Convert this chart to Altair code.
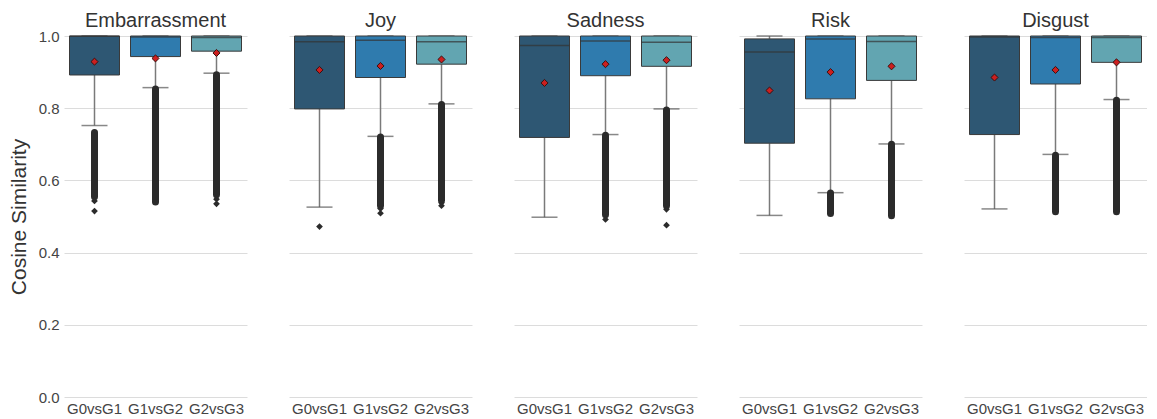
import altair as alt
import pandas as pd

emotions = ["Embarrassment", "Joy", "Sadness", "Risk", "Disgust"]
groups = ["G0vsG1", "G1vsG2", "G2vsG3"]
colors = ["#2e5773", "#2f7bae", "#62a5b1"]

# per emotion x group (15 boxes, emotion-major order)
q1 =      [0.892, 0.943, 0.958,  0.798, 0.885, 0.922,  0.719, 0.890, 0.916,  0.703, 0.826, 0.877,  0.727, 0.867, 0.927]
median =  [0.999, 0.997, 0.996,  0.984, 0.988, 0.984,  0.974, 0.986, 0.983,  0.956, 0.992, 0.985,  0.997, 0.996, 0.996]
q3 =      [1.000, 1.000, 1.000,  1.000, 1.000, 1.000,  1.000, 1.000, 1.000,  0.992, 1.000, 1.000,  1.000, 1.000, 1.000]
whislo =  [0.752, 0.857, 0.897,  0.526, 0.722, 0.812,  0.498, 0.727, 0.798,  0.503, 0.566, 0.701,  0.521, 0.672, 0.824]
whishi =  [1.000, 1.000, 1.000,  1.000, 1.000, 1.000,  1.000, 1.000, 1.000,  1.000, 1.000, 1.000,  1.000, 1.000, 1.000]
means =   [0.929, 0.938, 0.953,  0.906, 0.917, 0.935,  0.870, 0.922, 0.933,  0.849, 0.900, 0.916,  0.885, 0.906, 0.927]
# dense outlier runs (top, bottom); None when there are none
band_hi = [0.733, 0.853, 0.893,  None,  0.720, 0.810,  None,  0.725, 0.795,  None,  0.565, 0.700,  None,  0.670, 0.822]
band_lo = [0.555, 0.540, 0.560,  None,  0.530, 0.545,  None,  0.505, 0.530,  None,  0.508, 0.502,  None,  0.513, 0.513]

# isolated outliers
out_emotion = ["Embarrassment", "Embarrassment", "Embarrassment", "Embarrassment", "Joy", "Joy", "Joy", "Joy", "Joy",
               "Sadness", "Sadness", "Sadness"]
out_group = ["G0vsG1", "G0vsG1", "G2vsG3", "G2vsG3", "G0vsG1", "G1vsG2", "G1vsG2", "G2vsG3", "G2vsG3",
             "G1vsG2", "G2vsG3", "G2vsG3"]
out_value = [0.543, 0.515, 0.548, 0.535, 0.472, 0.522, 0.509, 0.538, 0.530,
             0.492, 0.520, 0.476]

rows = []
i = 0
for e in emotions:
    for g in groups:
        rows.append(dict(kind="box", emotion=e, group=g, q1=q1[i], median=median[i], q3=q3[i],
                         whislo=whislo[i], whishi=whishi[i], mean=means[i],
                         band_hi=band_hi[i], band_lo=band_lo[i], val=None))
        i += 1
for e, g, v in zip(out_emotion, out_group, out_value):
    rows.append(dict(kind="out", emotion=e, group=g, q1=None, median=None, q3=None,
                     whislo=None, whishi=None, mean=None, band_hi=None, band_lo=None, val=v))
df = pd.DataFrame(rows)

FONT = "Arial"
xenc = alt.X("group:N", sort=groups, title=None,
             scale=alt.Scale(paddingInner=0, paddingOuter=0),
             axis=alt.Axis(labelAngle=0, labelFontSize=15, labelColor="#444444", labelFont=FONT,
                           domain=False, ticks=False, labelPadding=4))
yscale = alt.Scale(domain=[0, 1], nice=False)
yaxis = alt.Axis(values=[0, 0.2, 0.4, 0.6, 0.8, 1.0], format=".1f", labelFontSize=15, labelColor="#444444",
                 labelFont=FONT, domain=False, ticks=False, grid=True, gridColor="#dcdcdc",
                 title="Cosine Similarity", titleFontSize=21, titleFont=FONT, titleFontWeight="normal",
                 titleColor="#333333", titlePadding=9, labelPadding=5)

base = alt.Chart().encode(x=xenc)
boxes = base.transform_filter("datum.kind == 'box'")

wlo = boxes.mark_rule(color="#7a7a7a", strokeWidth=1.5).encode(
    y=alt.Y("whislo:Q", scale=yscale, axis=yaxis), y2="q1:Q")
whi = boxes.mark_rule(color="#7a7a7a", strokeWidth=1.5).encode(
    y=alt.Y("q3:Q", scale=yscale), y2="whishi:Q")
capl = boxes.mark_tick(color="#555555", thickness=1.5, size=26, orient="horizontal").encode(
    y=alt.Y("whislo:Q", scale=yscale))
caph = boxes.mark_tick(color="#555555", thickness=1.5, size=26, orient="horizontal").encode(
    y=alt.Y("whishi:Q", scale=yscale))
bar = boxes.mark_bar(size=50, stroke="#3a3a3a", strokeWidth=1).encode(
    y=alt.Y("q1:Q", scale=yscale), y2="q3:Q",
    color=alt.Color("group:N", scale=alt.Scale(domain=groups, range=colors), legend=None))
med = boxes.mark_tick(color="#333333", thickness=1.5, size=50, orient="horizontal").encode(
    y=alt.Y("median:Q", scale=yscale))
band = boxes.transform_filter("datum.band_hi != null").mark_rule(
    color="#2b2b2b", strokeWidth=7, strokeCap="round").encode(
    y=alt.Y("band_hi:Q", scale=yscale), y2="band_lo:Q")
outs = base.transform_filter("datum.kind == 'out'").mark_point(
    shape="diamond", filled=True, color="#2b2b2b", size=45, opacity=1).encode(
    y=alt.Y("val:Q", scale=yscale))
mean = boxes.mark_point(shape="diamond", filled=True, fill="#cc1f1f", stroke="#3a1010",
                        strokeWidth=1, size=50, opacity=1).encode(
    y=alt.Y("mean:Q", scale=yscale))

layered = alt.layer(wlo, whi, capl, caph, bar, med, band, outs, mean).properties(width=183, height=361)

chart = layered.facet(
    data=df,
    column=alt.Column("emotion:N", sort=emotions,
                      header=alt.Header(title=None, labelFontSize=20, labelFont=FONT, labelColor="#333333",
                                        labelOrient="top", labelPadding=4)),
    spacing=42,
).properties(padding={"left": 0, "top": 3, "right": 0, "bottom": 0}).configure_view(stroke=None)

chart.save("out.html", embed_options={"renderer": "svg", "actions": False})
